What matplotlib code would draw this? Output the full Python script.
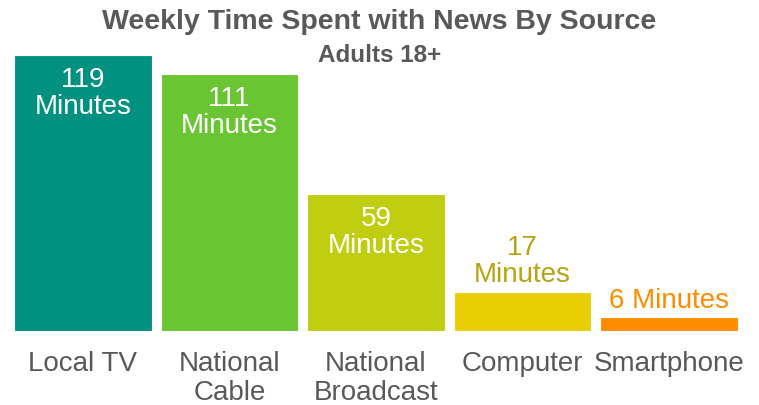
import matplotlib
matplotlib.use('Agg')
import matplotlib.pyplot as plt
from matplotlib import font_manager

# data
sources = ['Local TV', 'National\nCable', 'National\nBroadcast', 'Computer', 'Smartphone']
minutes = [119, 111, 59, 17, 6]
bar_colors = ['#009180', '#69C531', '#C1CD10', '#E9CE06', '#FF8C00']
label_colors = ['white', 'white', 'white', '#B8A312', '#FF8C00']
label_inside = [True, True, True, False, False]
value_labels = ['119\nMinutes', '111\nMinutes', '59\nMinutes', '17\nMinutes', '6 Minutes']

names = {f.name for f in font_manager.fontManager.ttflist}
font = 'Liberation Sans Narrow' if 'Liberation Sans Narrow' in names else 'Liberation Sans'
plt.rcParams['font.family'] = [font, 'DejaVu Sans']

W, H = 759, 406
fig = plt.figure(figsize=(W / 100, H / 100), dpi=100)
ax = fig.add_axes([14 / W, (H - 332) / H, 724 / W, 276 / H])

x = range(len(sources))
ax.bar(x, minutes, width=0.94, color=bar_colors, edgecolor='white', linewidth=0.8)
ax.set_xlim(-0.47, len(sources) - 0.53)
ax.set_ylim(0, max(minutes))

for i, (v, txt) in enumerate(zip(minutes, value_labels)):
    if label_inside[i]:
        ax.annotate(txt, (i, v), xytext=(0, -8), textcoords='offset points',
                    ha='center', va='top', fontsize=20, color=label_colors[i],
                    linespacing=1.05)
    else:
        ax.annotate(txt, (i, v), xytext=(0, 3), textcoords='offset points',
                    ha='center', va='bottom', fontsize=20, color=label_colors[i],
                    linespacing=1.05, annotation_clip=False)

ax.set_xticks(list(x))
ax.set_xticklabels(sources, fontsize=20, color='#595959', linespacing=1.12)
ax.tick_params(axis='x', length=0, pad=14)
ax.set_yticks([])
for s in ax.spines.values():
    s.set_visible(False)

fig.text(0.5, 1 - 22 / H, 'Weekly Time Spent with News By Source', ha='center', va='center',
         fontsize=20.5, fontweight='bold', color='#595959')
fig.text(0.5, 1 - 55 / H, 'Adults 18+', ha='center', va='center',
         fontsize=17.5, fontweight='bold', color='#595959')

fig.savefig('out.png', dpi=100)
